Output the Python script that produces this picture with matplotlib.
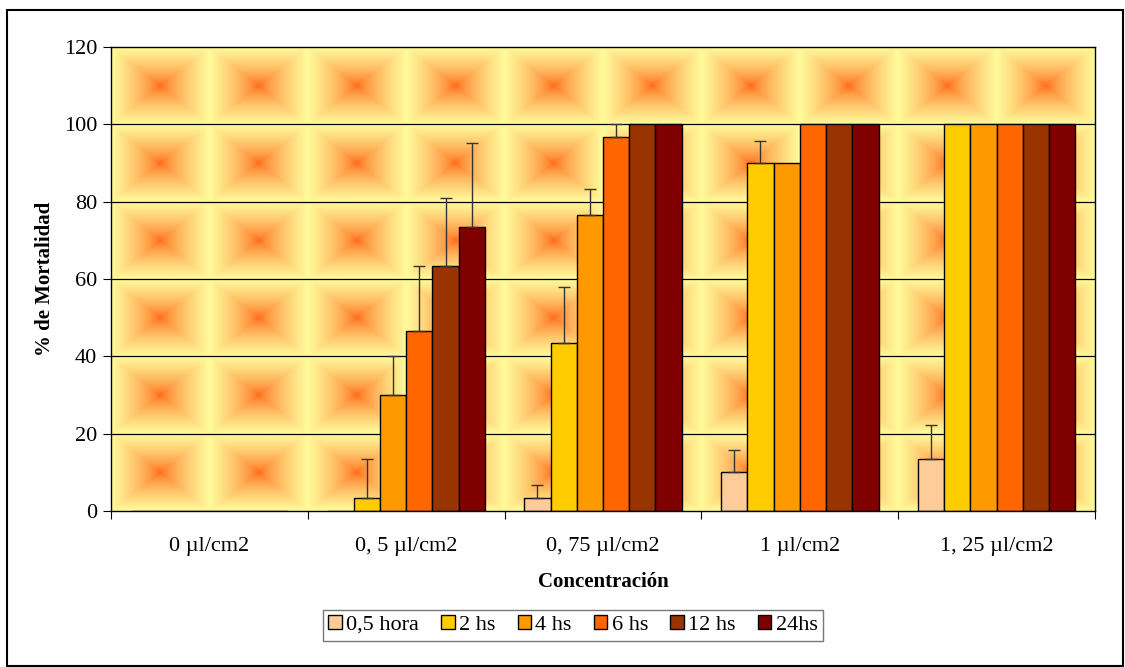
import numpy as np
import matplotlib.pyplot as plt
from matplotlib.patches import Rectangle

plt.rcParams['font.family'] = ['Liberation Serif', 'DejaVu Serif']

# Datos: % de mortalidad por concentración y tiempo de exposición
concentraciones = ['0 µl/cm2', '0, 5 µl/cm2', '0, 75 µl/cm2', '1 µl/cm2', '1, 25 µl/cm2']
tiempos = ['0,5 hora', '2 hs', '4 hs', '6 hs', '12 hs', '24hs']
colores = ['#FFCC99', '#FFCC00', '#FF9900', '#FF6600', '#993300', '#800000']

mort_05h = [0, 0, 3.33, 10, 13.33]
mort_2h = [0, 3.33, 43.33, 90, 100]
mort_4h = [0, 30, 76.67, 90, 100]
mort_6h = [0, 46.67, 96.67, 100, 100]
mort_12h = [0, 63.33, 100, 100, 100]
mort_24h = [0, 73.33, 100, 100, 100]

err_05h = [0, 0, 3.33, 5.77, 8.82]
err_2h = [0, 10, 14.5, 5.77, 0]
err_4h = [0, 10, 6.67, 0, 0]
err_6h = [0, 16.67, 3.33, 0, 0]
err_12h = [0, 17.6, 0, 0, 0]
err_24h = [0, 21.9, 0, 0, 0]

series = [mort_05h, mort_2h, mort_4h, mort_6h, mort_12h, mort_24h]
errores = [err_05h, err_2h, err_4h, err_6h, err_12h, err_24h]

fig = plt.figure(figsize=(11.25, 6.67), dpi=100)
ax = fig.add_axes([111 / 1125, 1 - 511 / 667, 984 / 1125, 464 / 667])

# Fondo de mosaico: degradado rectangular desde el centro de cada baldosa
ncol, nfil, res = 10, 6, 60
u = np.linspace(-1, 1, res)
U, V = np.meshgrid(u, u)
t = np.maximum(np.abs(U), np.abs(V)) ** 0.65
centro = np.array([255, 100, 20]) / 255
borde = np.array([255, 250, 155]) / 255
baldosa = centro + (borde - centro) * t[..., None]
fondo = np.tile(baldosa, (nfil, ncol, 1))
ax.imshow(fondo, extent=(-0.5, 4.5, 0, 120), aspect='auto', zorder=0,
          interpolation='bilinear')

ax.set_xlim(-0.5, 4.5)
ax.set_ylim(0, 120)
ax.set_yticks(range(0, 121, 20))
for yv in range(20, 101, 20):
    ax.axhline(yv, color='black', lw=0.9, zorder=1)

x = np.arange(len(concentraciones))
w = 1 / 7.5
for j, (vals, errs) in enumerate(zip(series, errores)):
    pos = x + (j - 2.5) * w
    ax.bar(pos, vals, width=w, color=colores[j], edgecolor='black', lw=1,
           label=tiempos[j], zorder=2)
    vals = np.array(vals)
    errs = np.array(errs)
    m = errs > 0
    ax.errorbar(pos[m], vals[m], yerr=[np.zeros(m.sum()), errs[m]], fmt='none',
                ecolor='#333333', elinewidth=1, capsize=4, capthick=1, zorder=3)

ax.set_xticks(np.arange(-0.5, 4.6, 1))
ax.set_xticklabels([])
ax.set_xticks(x, minor=True)
ax.set_xticklabels(concentraciones, minor=True, fontsize=16)
ax.tick_params(axis='x', which='minor', length=0, pad=19)
ax.tick_params(axis='x', which='major', length=6, direction='out')
ax.tick_params(axis='y', labelsize=16, length=6, direction='out', pad=4)
for s in ax.spines.values():
    s.set_linewidth(1)

ax.set_xlabel('Concentración', fontsize=15, fontweight='bold', labelpad=11)
ax.set_ylabel('% de Mortalidad', fontsize=15, fontweight='bold', labelpad=6)

fig.legend(loc='center', bbox_to_anchor=(573 / 1125, 1 - 625 / 667), ncol=6,
           fontsize=16, frameon=True, fancybox=False, edgecolor='#555555',
           handlelength=0.6, handleheight=0.6, handletextpad=0.2,
           columnspacing=1.0, borderpad=0.25)

# Marco exterior
fig.patches.append(Rectangle((7 / 1125, 1 / 667), 1116 / 1125, 656 / 667,
                             transform=fig.transFigure, fill=False,
                             edgecolor='black', lw=1.5))

fig.savefig('out.png', dpi=100)
